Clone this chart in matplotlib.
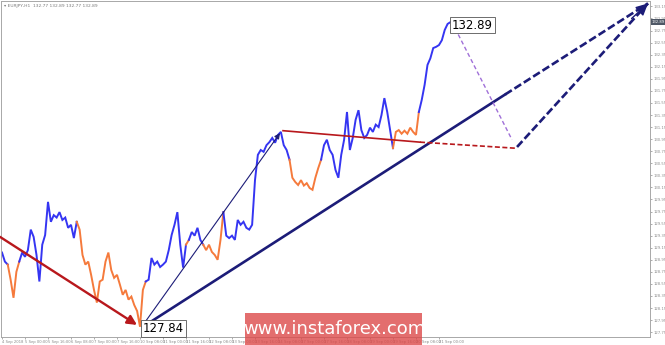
import matplotlib
matplotlib.use("Agg")
import matplotlib.pyplot as plt

# EURJPY H1, one close every 2 bars starting 4 Sep 2018 08:00
closes = [
    129.07, 128.92, 128.87, 128.62, 128.32, 128.75, 128.92, 129.07, 129.00, 129.11,
    129.45, 129.33, 129.03, 128.59, 129.20, 129.36, 129.91, 129.58, 129.69, 129.65,
    129.74, 129.61, 129.65, 129.48, 129.53, 129.31, 129.58, 129.45, 129.03, 128.87,
    128.92, 128.70, 128.45, 128.24, 128.59, 128.62, 128.92, 129.07, 128.78, 128.65,
    128.70, 128.54, 128.37, 128.45, 128.29, 128.34, 128.20, 128.10, 127.84, 128.45,
    128.59, 128.62, 128.98, 128.87, 128.92, 128.83, 128.87, 128.92, 129.11, 129.36,
    129.53, 129.74, 129.20, 128.82, 129.20, 129.28, 129.41, 129.35, 129.48, 129.28,
    129.20, 129.11, 129.20, 129.08, 129.03, 128.95, 129.28, 129.74, 129.35, 129.31,
    129.35, 129.28, 129.61, 129.53, 129.58, 129.48, 129.45, 129.53, 130.27, 130.69,
    130.77, 130.74, 130.85, 130.90, 130.97, 130.89, 131.02, 131.07, 130.85, 130.77,
    130.61, 130.31, 130.24, 130.19, 130.27, 130.18, 130.22, 130.14, 130.11, 130.31,
    130.47, 130.61, 130.85, 130.94, 130.77, 130.69, 130.44, 130.31, 130.69, 130.94,
    131.40, 130.77, 130.97, 131.27, 131.43, 131.10, 130.97, 131.02, 131.14, 131.07,
    131.19, 131.15, 131.35, 131.63, 131.40, 131.10, 130.80, 131.07, 131.10, 131.04,
    131.09, 131.04, 131.14, 131.07, 131.02, 131.40, 131.60, 131.85, 132.18, 132.29,
    132.46, 132.48, 132.51, 132.59, 132.76, 132.86, 132.89,
]
bar_step = 2

# wave colouring, (first sample, last sample, colour)
segments = [
    (0, 2, "blue"), (2, 6, "orange"), (6, 26, "blue"), (26, 50, "orange"),
    (50, 64, "blue"), (64, 65, "orange"), (65, 70, "blue"), (70, 77, "orange"),
    (77, 100, "blue"), (100, 111, "orange"), (111, 136, "blue"), (136, 145, "orange"),
    (145, 156, "blue"),
]
colors = {"blue": "#3535f2", "orange": "#f57a3c"}

x_labels = [
    "4 Sep 2018", "5 Sep 00:00", "5 Sep 16:00", "6 Sep 08:00", "7 Sep 00:00",
    "7 Sep 16:00", "10 Sep 08:00", "11 Sep 00:00", "11 Sep 16:00", "12 Sep 08:00",
    "13 Sep 00:00", "13 Sep 16:00", "14 Sep 08:00", "17 Sep 00:00", "17 Sep 16:00",
    "18 Sep 08:00", "19 Sep 00:00", "19 Sep 16:00", "20 Sep 08:00", "21 Sep 00:00",
]
y_labels = [
    "127.75", "127.95", "128.15", "128.35", "128.55", "128.75", "128.95", "129.15",
    "129.35", "129.55", "129.75", "129.95", "130.15", "130.35", "130.55", "130.75",
    "130.95", "131.15", "131.35", "131.55", "131.75", "131.95", "132.15", "132.35",
    "132.55", "132.75", "132.95", "133.15",
]

# wave markup (bar, price)
prior_wave = [(-1.4, 129.33), (93.9, 127.87)]
wave_a = [(98.1, 127.87), (193.4, 131.05)]
trend_line = [(98.1, 127.84), (350.0, 131.69), (449.4, 133.20)]
level_line = [(195.5, 131.09), (290.8, 130.90), (356.9, 130.80)]
pullback = [(313.0, 132.89), (354.8, 130.94)]
target_path = [(358.3, 130.82), (449.4, 133.20)]
low_price = 127.84
high_price = 132.89

fig = plt.figure(figsize=(6.65, 3.45), dpi=100)
ax = fig.add_axes([1 / 665, 8 / 345, 649 / 665, 336 / 345])
ax.set_xlim(-0.7, 450.8)
ax.set_ylim(127.67, 133.24)

xs = [i * bar_step for i in range(len(closes))]
for a, b, c in segments:
    ax.plot(xs[a:b + 1], closes[a:b + 1], color=colors[c], lw=1.4, solid_joinstyle="miter")

navy = "#1c1c78"
red = "#b8181c"

ax.annotate("", xy=prior_wave[1], xytext=prior_wave[0], annotation_clip=False,
            arrowprops=dict(arrowstyle="-|>", color=red, lw=1.7, mutation_scale=14,
                            shrinkA=0, shrinkB=0))
ax.annotate("", xy=wave_a[1], xytext=wave_a[0],
            arrowprops=dict(arrowstyle="-|>", color=navy, lw=0.8, mutation_scale=8,
                            shrinkA=0, shrinkB=0))

ax.plot([p[0] for p in trend_line[:2]], [p[1] for p in trend_line[:2]], color=navy, lw=1.9)
ax.plot([p[0] for p in trend_line[1:]], [p[1] for p in trend_line[1:]], color=navy, lw=1.9,
        dashes=(3, 1.2))
ax.plot([p[0] for p in target_path], [p[1] for p in target_path], color=navy, lw=1.9,
        dashes=(3, 1.2))
ax.annotate("", xy=trend_line[2], xytext=(438.0, 132.95), annotation_clip=False,
            arrowprops=dict(arrowstyle="-|>", color=navy, lw=1.0, mutation_scale=18,
                            shrinkA=0, shrinkB=0))

ax.plot([p[0] for p in level_line[:2]], [p[1] for p in level_line[:2]], color=red, lw=1.2)
ax.plot([p[0] for p in level_line[1:]], [p[1] for p in level_line[1:]], color=red, lw=1.2,
        dashes=(3, 1.5))
ax.plot([p[0] for p in pullback], [p[1] for p in pullback], color="#a070d8", lw=1.0,
        dashes=(3, 2))

box = dict(boxstyle="square,pad=0.15", fc="white", ec="#555555", lw=0.6)
ax.text(xs[closes.index(low_price)] + 2, low_price - 0.03, f"{low_price:.2f}", fontsize=8.5,
        va="center", ha="left", bbox=box, zorder=5)
ax.text(xs[-1] + 1, high_price - 0.05, f"{high_price:.2f}", fontsize=8.5,
        va="center", ha="left", bbox=box, zorder=5)

# watermark
fig.patches.append(plt.Rectangle((245 / 665, 0), 177 / 665, 32 / 345, transform=fig.transFigure,
                                 fc="#dc4a4a", alpha=0.8, ec="none", zorder=10))
fig.text(334 / 665, 16 / 345, "www.instaforex.com", color="white", fontsize=13,
         ha="center", va="center", zorder=11)

# axes look
for s in ax.spines.values():
    s.set_color("#a8a8a8")
    s.set_linewidth(0.7)
ax.yaxis.tick_right()
ax.set_yticks([float(v) for v in y_labels])
ax.set_yticklabels(y_labels)
ax.set_xticks([i * 16 for i in range(len(x_labels))])
ax.set_xticklabels(x_labels, ha="left")
ax.tick_params(axis="both", labelsize=2.7, colors="#8a8a8a", length=1.5, width=0.5, pad=0.8)
ax.tick_params(axis="x", pad=0.6)

fig.text(652 / 665, 1 - 22 / 345, f"{high_price:.2f}", fontsize=2.7, color="white",
         ha="left", va="center",
         bbox=dict(boxstyle="square,pad=0.2", fc="#4f5866", ec="none"))
fig.text(4 / 665, 1 - 6 / 345, "\u25be EURJPY,H1  132.77 132.89 132.77 132.89", fontsize=3.2,
         color="#7a7a7a", ha="left", va="center")

fig.savefig("out.png", dpi=100, facecolor="white")
